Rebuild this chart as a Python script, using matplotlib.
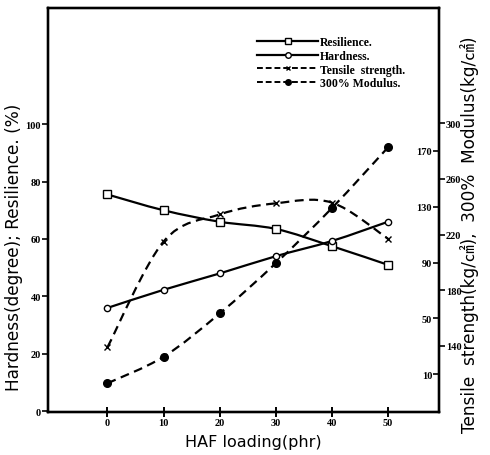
import matplotlib
matplotlib.use("Agg")
import matplotlib.pyplot as plt
from matplotlib.path import Path
from matplotlib.patches import PathPatch
from matplotlib.lines import Line2D

# HAF loading (phr)
loading = [0, 10, 20, 30, 40, 50]

# left axis: hardness (degree) and resilience (%)
resilience = [75.5, 70.0, 66.0, 63.5, 57.5, 51.0]
hardness = [36.0, 42.3, 48.0, 54.0, 59.3, 66.0]

# right axis, outer scale: tensile strength (kg/cm2)
tensile = [139, 215, 234.5, 242.5, 243, 217]
# right axis, inner scale: 300% modulus (kg/cm2)
modulus = [3.5, 22.5, 53.5, 89.5, 129, 172.5]

left_ticks = [0, 20, 40, 60, 80, 100]
tensile_ticks = [140, 180, 220, 260, 300]
modulus_ticks = [10, 50, 90, 130, 170]

tick_font = dict(family="Liberation Serif", weight="bold", size=7.5)
label_family = ["DejaVu Sans", "Noto Sans CJK KR"]


def smooth_path(xs, ys):
    # Catmull-Rom through the points, drawn as cubic Bezier segments
    pts = list(zip(xs, ys))
    ext = [pts[0]] + pts + [pts[-1]]
    verts = [pts[0]]
    codes = [Path.MOVETO]
    for i in range(1, len(ext) - 2):
        p0, p1, p2, p3 = ext[i - 1], ext[i], ext[i + 1], ext[i + 2]
        c1 = (p1[0] + (p2[0] - p0[0]) / 6, p1[1] + (p2[1] - p0[1]) / 6)
        c2 = (p2[0] - (p3[0] - p1[0]) / 6, p2[1] - (p3[1] - p1[1]) / 6)
        verts += [c1, c2, p2]
        codes += [Path.CURVE4] * 3
    return Path(verts, codes)


def draw_series(ax, ys, ls, marker, mfc, ms):
    patch = PathPatch(smooth_path(loading, ys), fill=False, edgecolor="black",
                      lw=1.6, linestyle=ls, capstyle="butt")
    ax.add_patch(patch)
    ax.plot(loading, ys, ls="none", marker=marker, mfc=mfc, mec="black",
            mew=1.0, ms=ms, color="black", zorder=5)


def plot_graph():
    fig = plt.figure(figsize=(4.9, 4.56), dpi=100)
    ax = fig.add_axes([0.098, 0.094, 0.798, 0.886])
    ax_t = ax.twinx()
    ax_m = ax.twinx()

    ax.set_xlim(-10.6, 59.1)
    ax.set_ylim(-0.3, 140.4)
    ax_t.set_ylim(92.3, 382.9)
    ax_m.set_ylim(-17.2, 272.3)

    dash = (0, (4, 2.5))
    draw_series(ax, resilience, "-", "s", "white", 6)
    draw_series(ax, hardness, "-", "o", "white", 4.5)
    draw_series(ax_t, tensile, dash, "x", "black", 4)
    draw_series(ax_m, modulus, dash, "o", "black", 5.5)

    for a in (ax, ax_t, ax_m):
        for s in a.spines.values():
            s.set_linewidth(1.6)

    ax.set_xticks(loading)
    ax.set_xticklabels([str(v) for v in loading], **tick_font)
    ax.tick_params(axis="x", direction="inout", length=7, width=1.4, pad=1)
    ax.set_yticks(left_ticks)
    ax.set_yticklabels([str(v) for v in left_ticks], **tick_font)
    ax.tick_params(axis="y", direction="out", length=4, width=1.2, pad=1)

    ax_t.set_yticks(tensile_ticks)
    ax_t.set_yticklabels([str(v) for v in tensile_ticks], **tick_font)
    ax_t.tick_params(axis="y", direction="out", length=4, width=1.2, pad=1)

    ax_m.set_yticks(modulus_ticks)
    ax_m.set_yticklabels([str(v) for v in modulus_ticks], ha="right", **tick_font)
    ax_m.tick_params(axis="y", direction="in", length=4, width=1.2, pad=-5)

    fig.text(253 / 490, 1 - 443 / 456, "HAF loading(phr)", ha="center",
             va="center", family=label_family, size=11.5)
    fig.text(14 / 490, 1 - 247 / 456, "Hardness(degree); Resilience. (%)",
             rotation=90, ha="center", va="center", family=label_family, size=12.2)
    fig.text(470 / 490, 1 - 235 / 456,
             "Tensile  strength(kg/㎠),  300%  Modulus(kg/㎠)",
             rotation=90, ha="center", va="center", family=label_family, size=12.2)

    handles = [
        Line2D([], [], color="black", lw=1.6, marker="s", mfc="white", ms=5),
        Line2D([], [], color="black", lw=1.6, marker="o", mfc="white", ms=4),
        Line2D([], [], color="black", lw=1.4, ls=(0, (3, 1.5)), marker="x", ms=3),
        Line2D([], [], color="black", lw=1.4, ls=(0, (3, 1.5)), marker="o", ms=4),
    ]
    labels = ["Resilience.", "Hardness.", "Tensile  strength.", "300% Modulus."]
    fig.legend(handles, labels, loc="upper left", bbox_to_anchor=(257 / 490, 1 - 37 / 456),
               frameon=False, borderpad=0, borderaxespad=0, handlelength=5.2,
               handletextpad=0.1, labelspacing=0.15, numpoints=1,
               prop=dict(family="Liberation Serif", weight="bold", size=8.5))

    fig.savefig("out.png", dpi=100)


if __name__ == "__main__":
    plot_graph()
